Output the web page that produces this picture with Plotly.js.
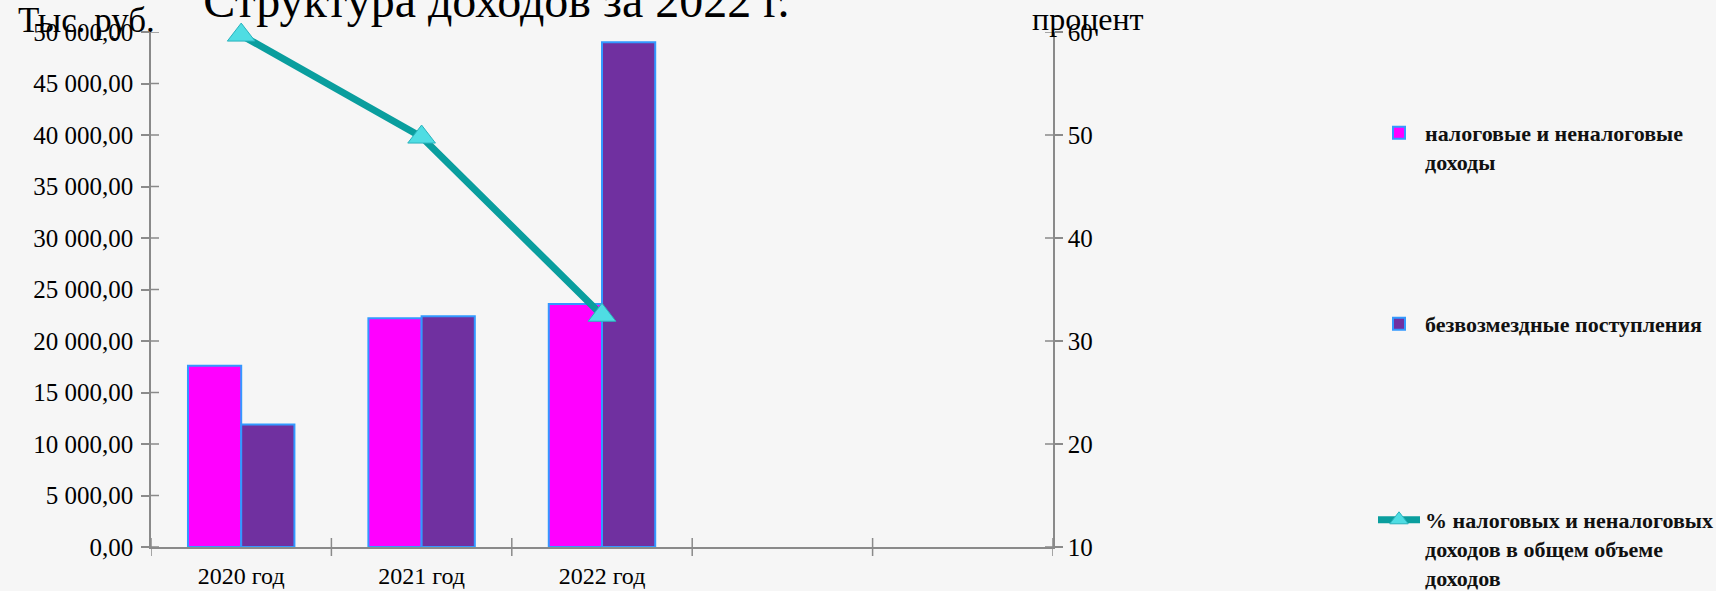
<!DOCTYPE html>
<html>
<head>
<meta charset="utf-8">
<script src="https://cdn.plot.ly/plotly-3.0.1.min.js"></script>
<style>
  html, body { margin: 0; padding: 0; background: #f6f6f6; }
  #chart { width: 1716px; height: 591px; }
</style>
</head>
<body>
<div id="chart"></div>
<script>
// ---- data ----
const years = ['2020 год', '2021 год', '2022 год'];
const taxRevenue = [17600, 22200, 23600];      // налоговые и неналоговые доходы, тыс. руб.
const freeReceipts = [11900, 22400, 49000];    // безвозмездные поступления, тыс. руб.
const taxShare = [59.7, 49.8, 32.5];           // % налоговых и неналоговых доходов
const seriesNames = [
  'налоговые и неналоговые<br>доходы',
  'безвозмездные поступления',
  '% налоговых и неналоговых<br>доходов в общем объеме<br>доходов'
];
const chartTitle = 'Структура доходов за 2022 г.';
const leftUnit = 'Тыс. руб.';
const rightUnit = 'процент';

// axis settings
const leftRange = [0, 50000], leftStep = 5000;
const rightRange = [10, 60], rightStep = 10;
const categorySlots = 5;   // the category axis has room for 5 periods

const serif = 'Liberation Serif, Times New Roman, serif';
const axisGray = '#8a8a8a';

const traces = [
  {
    type: 'bar', name: seriesNames[0], x: years, y: taxRevenue,
    marker: { color: '#ff00ff', line: { color: '#3399ff', width: 2 } },
    legend: 'legend', hoverinfo: 'x+y'
  },
  {
    type: 'bar', name: seriesNames[1], x: years, y: freeReceipts,
    marker: { color: '#7030a0', line: { color: '#3399ff', width: 2 } },
    legend: 'legend2', hoverinfo: 'x+y'
  },
  {
    type: 'scatter', mode: 'lines+markers', name: seriesNames[2], x: years, y: taxShare,
    yaxis: 'y2', cliponaxis: false,
    line: { color: '#0a9e9e', width: 7 },
    marker: { symbol: 'triangle-up', size: 24, color: '#4fdde3', line: { color: '#2ab3bd', width: 1 } },
    legend: 'legend3'
  }
];

// cross-style tick marks (the part inside the plot area) drawn through the axes' scales
const shapes = [];
const tickLine = { color: axisGray, width: 1.5 };
for (let v = leftRange[0]; v <= leftRange[1]; v += leftStep) {
  shapes.push({ type: 'line', xref: 'paper', xsizemode: 'pixel', xanchor: 0, x0: 0, x1: 8,
                yref: 'y', y0: v, y1: v, line: tickLine });
}
for (let v = rightRange[0]; v <= rightRange[1]; v += rightStep) {
  shapes.push({ type: 'line', xref: 'paper', xsizemode: 'pixel', xanchor: 1, x0: -8, x1: 0,
                yref: 'y2', y0: v, y1: v, line: tickLine });
}
for (let i = 0; i <= categorySlots; i++) {
  shapes.push({ type: 'line', xref: 'x', x0: i - 0.5, x1: i - 0.5,
                yref: 'paper', ysizemode: 'pixel', yanchor: 0, y0: -9, y1: 9, line: tickLine });
}

const legendFont = { family: serif, size: 22, color: '#111', weight: 'bold' };
const legendBase = {
  xref: 'container', yref: 'container', x: 1373 / 1716,
  xanchor: 'left', yanchor: 'top', bgcolor: 'rgba(0,0,0,0)', font: legendFont,
  itemwidth: 42, valign: 'top'
};

const layout = {
  width: 1716, height: 591,
  paper_bgcolor: '#f6f6f6', plot_bgcolor: 'rgba(0,0,0,0)',
  margin: { l: 151, r: 663, t: 32, b: 44 },
  separators: ', ',
  barmode: 'group', bargap: 0.41, bargroupgap: 0,
  title: {
    text: chartTitle, font: { family: serif, size: 48, color: '#000' },
    xref: 'container', yref: 'container', x: 0.2893, y: 1, xanchor: 'center', yanchor: 'middle'
  },
  xaxis: {
    type: 'category', categoryorder: 'array', categoryarray: years,
    range: [-0.5, categorySlots - 0.5], ticks: '', ticklabelstandoff: 6,
    showline: true, linecolor: axisGray, linewidth: 1.5,
    showgrid: false, zeroline: false,
    tickfont: { family: serif, size: 24, color: '#000' }
  },
  yaxis: {
    range: leftRange, dtick: leftStep, tickformat: ',.2f',
    ticks: 'outside', ticklen: 8, tickcolor: axisGray, tickwidth: 1.5, ticklabelstandoff: 3,
    showline: true, linecolor: axisGray, linewidth: 1.5, showgrid: false, zeroline: false,
    tickfont: { family: serif, size: 25, color: '#000' }
  },
  yaxis2: {
    overlaying: 'y', anchor: 'x', side: 'right', range: rightRange, dtick: rightStep,
    ticks: 'outside', ticklen: 8, tickcolor: axisGray, tickwidth: 1.5,
    showline: true, linecolor: axisGray, linewidth: 1.5, showgrid: false, zeroline: false,
    tickfont: { family: serif, size: 25, color: '#000' }
  },
  legend: Object.assign({}, legendBase, { y: 1 - 112 / 591 }),
  legend2: Object.assign({}, legendBase, { y: 1 - 303 / 591 }),
  legend3: Object.assign({}, legendBase, { y: 1 - 499 / 591 }),
  shapes: shapes,
  annotations: [
    {
      text: leftUnit, xref: 'paper', yref: 'paper', x: -0.1497, y: 1.023, xanchor: 'left', yanchor: 'middle',
      showarrow: false, font: { family: serif, size: 35, color: '#000' }
    },
    {
      text: rightUnit, xref: 'paper', yref: 'paper', x: 0.975, y: 1.025, xanchor: 'left', yanchor: 'middle',
      showarrow: false, font: { family: serif, size: 32, color: '#000' }
    }
  ],
  showlegend: true,
  hovermode: 'closest'
};

Plotly.newPlot('chart', traces, layout, { displayModeBar: false });
</script>
</body>
</html>
